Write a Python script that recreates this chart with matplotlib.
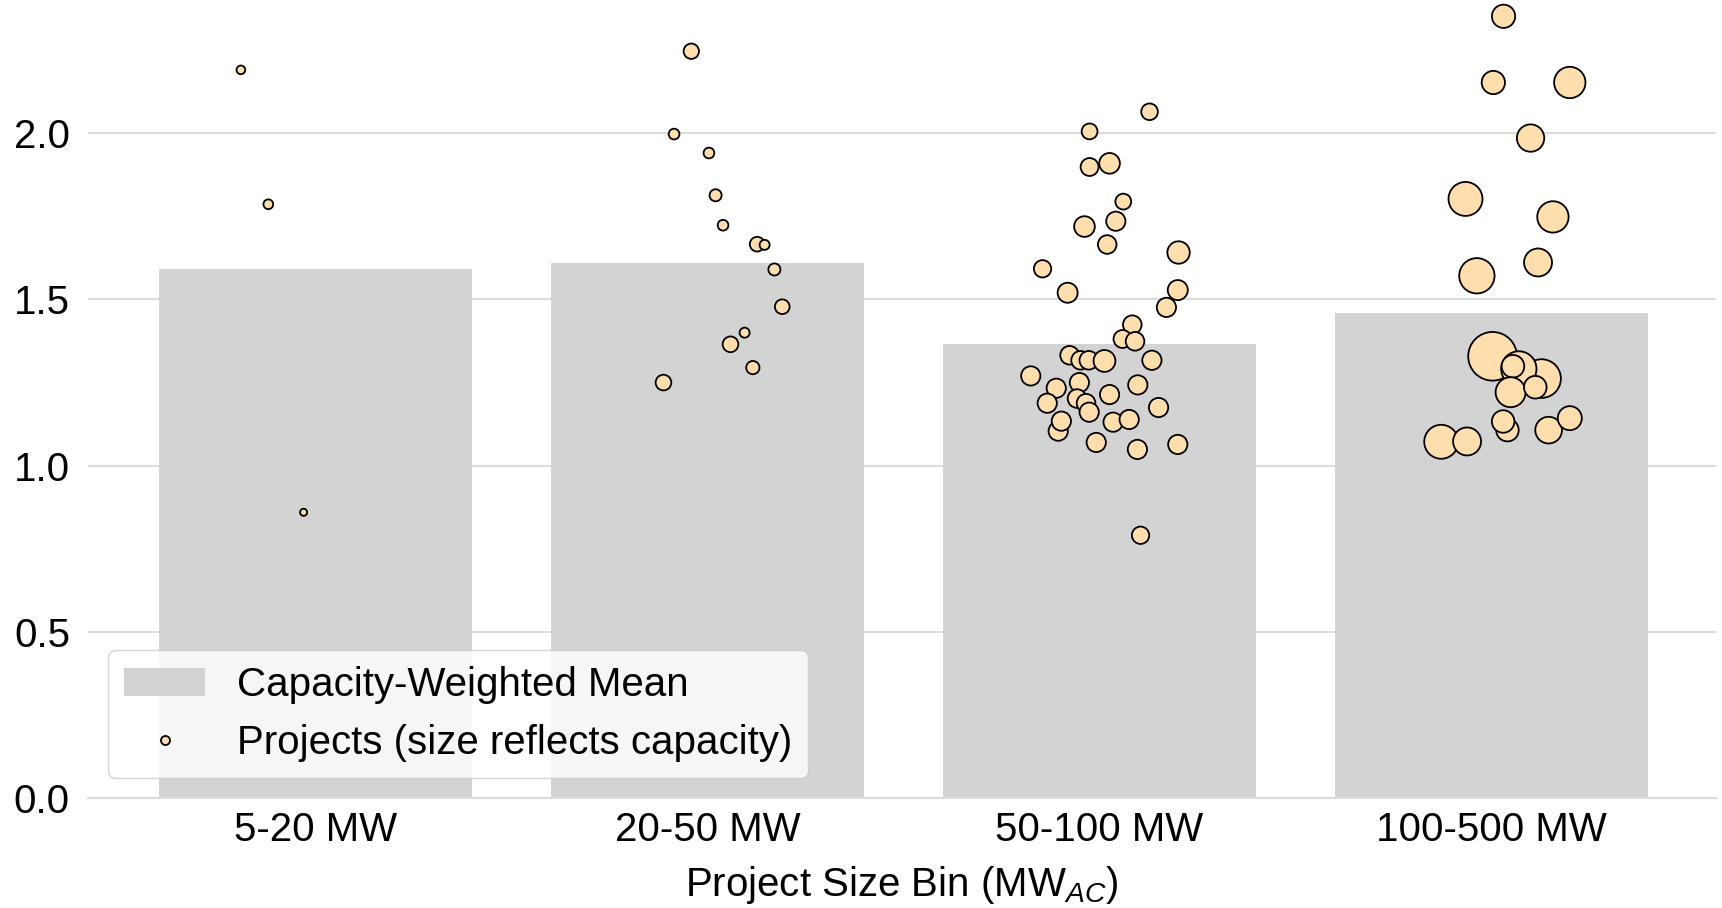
import matplotlib
matplotlib.use("Agg")
import matplotlib.pyplot as plt
from matplotlib.lines import Line2D
from matplotlib.patches import Patch

# ---------------- data ----------------
categories = ["5-20 MW", "20-50 MW", "50-100 MW", "100-500 MW"]
weighted_mean = [1.59, 1.61, 1.366, 1.46]

# projects per bin: value, horizontal jitter (category units), capacity (MW)
bin0_values = [2.19, 1.786, 0.86]
bin0_jitter = [-0.19, -0.12, -0.03]
bin0_capacity = [15, 19, 10]

bin1_values = [2.246, 1.997, 1.940, 1.813, 1.723, 1.666, 1.664, 1.590, 1.478,
               1.400, 1.365, 1.295, 1.250]
bin1_jitter = [-0.041, -0.085, 0.004, 0.021, 0.040, 0.127, 0.146, 0.171, 0.191,
               0.095, 0.059, 0.116, -0.112]
bin1_capacity = [47, 23, 23, 29, 23, 43, 20, 29, 43, 20, 49, 35, 49]

bin2_values = [2.064, 2.005, 1.898, 1.909, 1.794, 1.735, 1.719, 1.665, 1.641,
               1.592, 1.520, 1.528, 1.476, 1.424, 1.381, 1.374, 1.332, 1.317,
               1.317, 1.315, 1.317, 1.270, 1.250, 1.233, 1.243, 1.214, 1.202,
               1.188, 1.188, 1.161, 1.175, 1.104, 1.134, 1.131, 1.139, 1.070,
               1.049, 1.064, 0.791]
bin2_jitter = [0.128, -0.025, -0.025, 0.026, 0.061, 0.042, -0.038, 0.020, 0.202,
               -0.145, -0.081, 0.200, 0.171, 0.084, 0.059, 0.091, -0.076, -0.048,
               -0.027, 0.013, 0.134, -0.175, -0.051, -0.110, 0.098, 0.026, -0.057,
               -0.133, -0.034, -0.026, 0.151, -0.105, -0.097, 0.035, 0.076, -0.008,
               0.097, 0.200, 0.105]
bin2_capacity = [55, 50, 64, 85, 50, 74, 85, 69, 100, 60, 80, 80, 74, 69, 64, 69,
                 69, 69, 69, 95, 74, 74, 74, 74, 74, 74, 69, 74, 69, 74, 74, 74,
                 74, 74, 74, 74, 74, 74, 60]

bin3_values = [2.351, 2.152, 2.152, 1.985, 1.802, 1.748, 1.611, 1.571, 1.329,
               1.262, 1.291, 1.299, 1.221, 1.236, 1.107, 1.133, 1.107, 1.143,
               1.072, 1.073]
bin3_jitter = [0.031, 0.005, 0.200, 0.100, -0.066, 0.157, 0.119, -0.037, 0.003,
               0.128, 0.070, 0.055, 0.049, 0.112, 0.041, 0.030, 0.146, 0.200,
               -0.128, -0.062]
bin3_capacity = [108, 108, 196, 149, 230, 196, 156, 249, 472, 298, 249, 102, 179,
                 102, 101, 101, 142, 115, 230, 156]

y_ticks = [0.0, 0.5, 1.0, 1.5, 2.0]

# ---------------- style ----------------
plt.rcParams['font.family'] = ['Liberation Sans', 'DejaVu Sans']
plt.rcParams['mathtext.fontset'] = 'custom'
plt.rcParams['mathtext.rm'] = 'Liberation Sans'
plt.rcParams['mathtext.it'] = 'Liberation Sans:italic'

BAR_COLOR = '#d3d3d3'
POINT_COLOR = '#ffdead'
GRID_COLOR = '#dcdcdc'
SIZE_SCALE = 2.6  # marker area (pt^2) per MW
FS = 29

W, H = 1722, 908
fig = plt.figure(figsize=(W / 100, H / 100), dpi=100)
ax = fig.add_axes([88 / W, (H - 798.4) / H, 1628 / W, 798.4 / H])

x_pos = list(range(len(categories)))
ax.bar(x_pos, weighted_mean, width=0.8, color=BAR_COLOR, zorder=2)

bins = [
    (bin0_values, bin0_jitter, bin0_capacity),
    (bin1_values, bin1_jitter, bin1_capacity),
    (bin2_values, bin2_jitter, bin2_capacity),
    (bin3_values, bin3_jitter, bin3_capacity),
]
for i, (vals, jit, caps) in enumerate(bins):
    ax.scatter([i + j for j in jit], vals,
               s=[c * SIZE_SCALE for c in caps],
               c=POINT_COLOR, edgecolors='black', linewidths=1.3, zorder=3)

ax.set_xlim(-0.58, 3.573)
ax.set_ylim(0, 2.4)
ax.set_yticks(y_ticks)
ax.set_yticklabels([f"{t:.1f}" for t in y_ticks])
ax.set_xticks(x_pos)
ax.set_xticklabels(categories)

ax.yaxis.grid(True, color=GRID_COLOR, lw=1.5)
ax.xaxis.grid(False)
ax.set_axisbelow(True)
for sp in ['top', 'right', 'left']:
    ax.spines[sp].set_visible(False)
ax.spines['bottom'].set_color(GRID_COLOR)
ax.spines['bottom'].set_linewidth(1.5)

ax.tick_params(length=0, labelsize=FS)
ax.tick_params(axis='y', pad=13)
ax.tick_params(axis='x', pad=9)
ax.set_xlabel("Project Size Bin (MW$_{AC}$)", fontsize=FS, labelpad=11)

handles = [
    Patch(facecolor=BAR_COLOR, label='Capacity-Weighted Mean'),
    Line2D([], [], marker='o', ls='', markersize=6.5,
           markerfacecolor=POINT_COLOR, markeredgecolor='black',
           markeredgewidth=1.3, label='Projects (size reflects capacity)'),
]
ax.legend(handles=handles, loc='lower left', fontsize=FS, framealpha=0.8,
          edgecolor='#cccccc')

fig.savefig('out.png', dpi=100)
